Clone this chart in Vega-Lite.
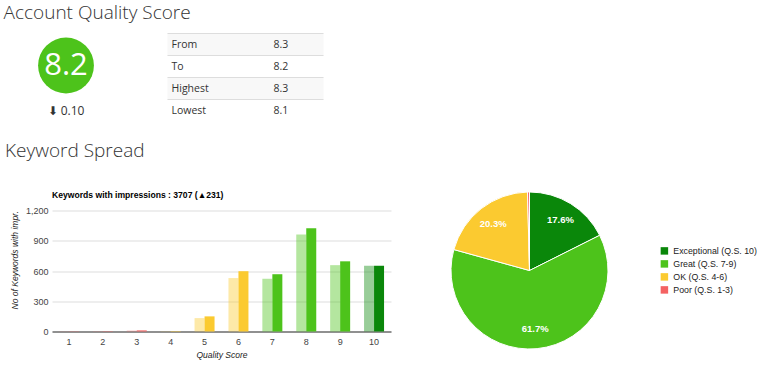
{
  "$schema": "https://vega.github.io/schema/vega-lite/v6.json",
  "background": "white",
  "padding": {"left": 3, "top": 3.5, "right": 0, "bottom": 0},
  "config": {
    "view": {"stroke": null},
    "font": "Liberation Sans",
    "title": {"font": "Open Sans", "fontSize": 19, "fontWeight": 300, "color": "#333333", "anchor": "start", "baseline": "top"}
  },
  "spacing": 20,
  "vconcat": [
    {
      "title": {"text": "Account Quality Score", "offset": 10, "dx": -34.5},
      "spacing": 72.5,
      "hconcat": [
        {
          "width": 28,
          "height": 88,
          "data": {"values": [
            {"item": "Score", "label": "8.2"},
            {"item": "Change", "label": "⬇ 0.10"}
          ]},
          "encoding": {
            "y": {"field": "item", "type": "nominal", "axis": null,
                  "scale": {"type": "point", "domain": ["Score", "Change"], "range": [32, 77], "padding": 0}}
          },
          "layer": [
            {"transform": [{"filter": "datum.item === 'Score'"}],
             "mark": {"type": "circle", "size": 3117, "color": "#4dc31b", "opacity": 1}},
            {"transform": [{"filter": "datum.item === 'Score'"}],
             "mark": {"type": "text", "font": "Open Sans", "fontSize": 31, "color": "#ffffff", "baseline": "middle"},
             "encoding": {"text": {"field": "label"}}},
            {"transform": [{"filter": "datum.item === 'Change'"}],
             "mark": {"type": "text", "font": "Open Sans", "fontSize": 12, "color": "#333333", "baseline": "middle"},
             "encoding": {"text": {"field": "label"}}}
          ]
        },
        {
          "width": 156,
          "height": 88,
          "data": {"values": [
            {"metric": "From", "value": "8.3"},
            {"metric": "To", "value": "8.2"},
            {"metric": "Highest", "value": "8.3"},
            {"metric": "Lowest", "value": "8.1"}
          ]},
          "encoding": {
            "y": {"field": "metric", "type": "nominal", "axis": null, "sort": null,
                  "scale": {"domain": ["From", "To", "Highest", "Lowest"], "paddingInner": 0, "paddingOuter": 0}}
          },
          "layer": [
            {"mark": {"type": "rect"},
             "encoding": {"color": {"condition": {"test": "datum.metric === 'From' || datum.metric === 'Highest'", "value": "#f8f8f8"}, "value": "#ffffff"}}},
            {"mark": {"type": "rule", "color": "#dddddd", "strokeWidth": 1},
             "encoding": {"y": {"field": "metric", "type": "nominal", "bandPosition": 0, "axis": null}}},
            {"mark": {"type": "text", "font": "Open Sans", "fontSize": 10.5, "color": "#333333", "align": "left", "baseline": "middle"},
             "encoding": {
               "x": {"datum": "Metric", "type": "nominal", "axis": null, "scale": {"type": "point", "domain": ["Metric", "Value"], "range": [4, 106], "padding": 0}},
               "text": {"field": "metric"}}},
            {"mark": {"type": "text", "font": "Open Sans", "fontSize": 10.5, "color": "#333333", "align": "left", "baseline": "middle"},
             "encoding": {
               "x": {"datum": "Value", "type": "nominal", "axis": null},
               "text": {"field": "value"}}}
          ]
        }
      ]
    },
    {
      "title": {"text": "Keyword Spread", "offset": 29, "dx": -5.5},
      "spacing": 55,
      "resolve": {"scale": {"color": "independent", "opacity": "independent"}, "legend": {"color": "independent"}},
      "hconcat": [
        {
          "width": 339,
          "height": 121,
          "title": {"text": "Keywords with impressions : 3707 (▲231)", "font": "Liberation Sans", "fontSize": 8.6, "fontWeight": "bold", "color": "#000000", "offset": 7, "anchor": "start", "frame": "group"},
          "data": {"values": [
            {"qs": 1, "tier": "Poor (Q.S. 1-3)", "period": "Previous", "keywords": 2},
            {"qs": 1, "tier": "Poor (Q.S. 1-3)", "period": "Current", "keywords": 2},
            {"qs": 2, "tier": "Poor (Q.S. 1-3)", "period": "Previous", "keywords": 3},
            {"qs": 2, "tier": "Poor (Q.S. 1-3)", "period": "Current", "keywords": 3},
            {"qs": 3, "tier": "Poor (Q.S. 1-3)", "period": "Previous", "keywords": 9},
            {"qs": 3, "tier": "Poor (Q.S. 1-3)", "period": "Current", "keywords": 11},
            {"qs": 4, "tier": "OK (Q.S. 4-6)", "period": "Previous", "keywords": 3},
            {"qs": 4, "tier": "OK (Q.S. 4-6)", "period": "Current", "keywords": 4},
            {"qs": 5, "tier": "OK (Q.S. 4-6)", "period": "Previous", "keywords": 133},
            {"qs": 5, "tier": "OK (Q.S. 4-6)", "period": "Current", "keywords": 150},
            {"qs": 6, "tier": "OK (Q.S. 4-6)", "period": "Previous", "keywords": 530},
            {"qs": 6, "tier": "OK (Q.S. 4-6)", "period": "Current", "keywords": 598},
            {"qs": 7, "tier": "Great (Q.S. 7-9)", "period": "Previous", "keywords": 523},
            {"qs": 7, "tier": "Great (Q.S. 7-9)", "period": "Current", "keywords": 568},
            {"qs": 8, "tier": "Great (Q.S. 7-9)", "period": "Previous", "keywords": 963},
            {"qs": 8, "tier": "Great (Q.S. 7-9)", "period": "Current", "keywords": 1023},
            {"qs": 9, "tier": "Great (Q.S. 7-9)", "period": "Previous", "keywords": 658},
            {"qs": 9, "tier": "Great (Q.S. 7-9)", "period": "Current", "keywords": 696},
            {"qs": 10, "tier": "Exceptional (Q.S. 10)", "period": "Previous", "keywords": 652},
            {"qs": 10, "tier": "Exceptional (Q.S. 10)", "period": "Current", "keywords": 652}
          ]},
          "mark": {"type": "bar"},
          "encoding": {
            "x": {"field": "qs", "type": "ordinal",
                  "scale": {"paddingInner": 0.41, "paddingOuter": 0.205},
                  "axis": {"title": "Quality Score", "titleFont": "Liberation Sans", "titleFontSize": 8.5, "titleFontStyle": "italic", "titleFontWeight": "normal", "titleColor": "#222222", "titlePadding": 4,
                           "labelAngle": 0, "labelFont": "Liberation Sans", "labelFontSize": 9, "labelColor": "#444444", "labelPadding": 6,
                           "ticks": false, "domainColor": "#333333", "domainWidth": 1}},
            "xOffset": {"field": "period", "type": "nominal", "sort": ["Previous", "Current"], "scale": {"paddingInner": 0, "paddingOuter": 0}},
            "y": {"field": "keywords", "type": "quantitative",
                  "scale": {"domain": [0, 1200]},
                  "axis": {"values": [0, 300, 600, 900, 1200], "format": ",d", "title": "No of Keywords with impr.", "titleFont": "Liberation Sans", "titleFontSize": 8.5, "titleFontStyle": "italic", "titleFontWeight": "normal", "titleColor": "#222222", "titlePadding": 6, "titleAnchor": "end",
                           "labelFont": "Liberation Sans", "labelFontSize": 9, "labelColor": "#444444", "labelPadding": 4,
                           "ticks": false, "domain": false, "gridColor": "#dddddd"}},
            "color": {"field": "tier", "type": "nominal", "legend": null,
                      "scale": {"domain": ["Exceptional (Q.S. 10)", "Great (Q.S. 7-9)", "OK (Q.S. 4-6)", "Poor (Q.S. 1-3)"], "range": ["#0a870a", "#4dc31b", "#fbca30", "#f46262"]}},
            "opacity": {"field": "period", "type": "nominal", "legend": null,
                        "scale": {"domain": ["Previous", "Current"], "range": [0.42, 1]}}
          }
        },
        {
          "width": 167,
          "height": 120,
          "data": {"values": [
            {"tier": "Exceptional (Q.S. 10)", "share": 0.176},
            {"tier": "Great (Q.S. 7-9)", "share": 0.617},
            {"tier": "OK (Q.S. 4-6)", "share": 0.203},
            {"tier": "Poor (Q.S. 1-3)", "share": 0.004}
          ]},
          "encoding": {
            "theta": {"field": "share", "type": "quantitative", "stack": true},
            "order": {"field": "tier", "type": "nominal", "sort": "ascending"},
            "color": {"field": "tier", "type": "nominal",
                      "scale": {"domain": ["Exceptional (Q.S. 10)", "Great (Q.S. 7-9)", "OK (Q.S. 4-6)", "Poor (Q.S. 1-3)"], "range": ["#0a870a", "#4dc31b", "#fbca30", "#f46262"]},
                      "legend": {"title": null, "orient": "none", "legendX": 214, "legendY": 36, "symbolType": "square", "symbolSize": 56, "symbolStrokeWidth": 0,
                                 "labelFont": "Liberation Sans", "labelFontSize": 8.8, "labelColor": "#222222", "labelOffset": 4.5, "rowPadding": 3, "padding": 0}}
          },
          "layer": [
            {"mark": {"type": "arc", "radius": 78.5, "stroke": "#ffffff", "strokeWidth": 1}},
            {"mark": {"type": "text", "radius": 59, "font": "Liberation Sans", "fontSize": 9.5, "fontWeight": "bold"},
             "encoding": {
               "color": {"value": "#ffffff"},
               "text": {"condition": {"test": "datum.share < 0.05", "value": ""}, "field": "share", "type": "quantitative", "format": ".1%"}}}
          ]
        }
      ]
    }
  ]
}
